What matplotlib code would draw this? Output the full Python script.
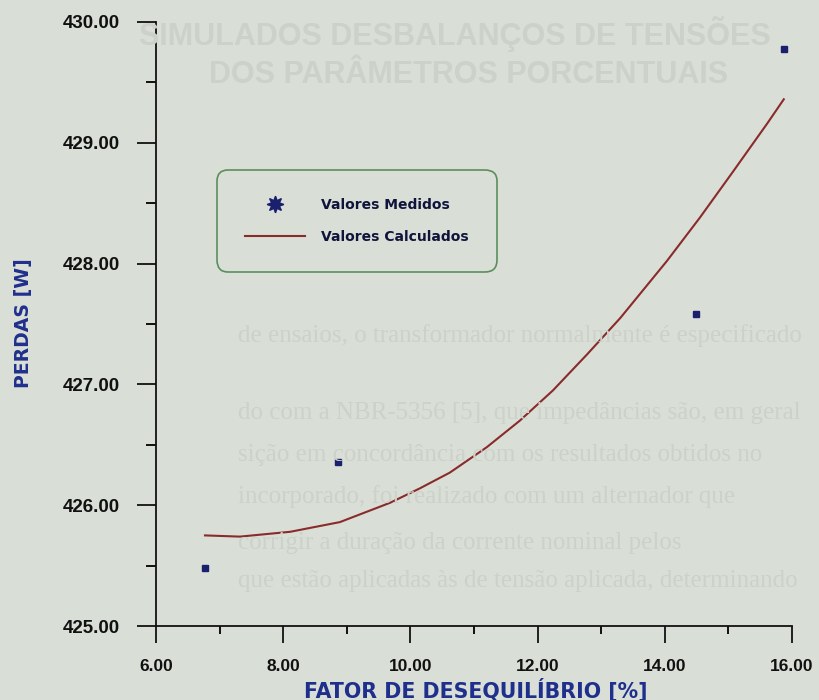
import matplotlib.pyplot as plt
from matplotlib.lines import Line2D
from matplotlib.ticker import MultipleLocator, FormatStrFormatter

# measured losses
fator_medido = [6.77, 8.86, 14.49, 15.87]
perdas_medido = [425.48, 426.36, 427.58, 429.78]

# calculated losses
fator_calc = [6.77, 7.32, 8.11, 8.89, 9.68, 10.15, 10.62, 11.20, 11.72,
              12.24, 12.78, 13.30, 14.03, 14.55, 15.07, 15.61, 15.87]
perdas_calc = [425.75, 425.74, 425.78, 425.86, 426.02, 426.14, 426.27, 426.48, 426.70,
               426.95, 427.25, 427.55, 428.02, 428.38, 428.76, 429.16, 429.36]

x_ticks = [6, 8, 10, 12, 14, 16]
y_ticks = [425, 426, 427, 428, 429, 430]

BG = '#d9dfd7'
GHOST = '#ccd2ca'
NAVY = '#1a1f6e'
LABEL_BLUE = '#1f2f8c'
LINE_RED = '#8a2b2b'

fig = plt.figure(figsize=(8.19, 7.0), dpi=100, facecolor=BG)

# faint print from the other side of the sheet
fig.text(0.17, 0.952, 'SIMULADOS DESBALANÇOS DE TENSÕES', fontsize=22, weight='bold',
         color=GHOST, family='Liberation Sans', va='center')
fig.text(0.255, 0.893, 'DOS PARÂMETROS PORCENTUAIS', fontsize=22, weight='bold',
         color=GHOST, family='Liberation Sans', va='center')
ghost_lines = [
    (0.52, 'de ensaios, o transformador normalmente é especificado'),
    (0.41, 'do com a NBR-5356 [5], que impedâncias são, em geral'),
    (0.35, 'sição em concordância com os resultados obtidos no'),
    (0.29, 'incorporado, foi realizado com um alternador que'),
    (0.225, 'corrigir a duração da corrente nominal pelos'),
    (0.17, 'que estão aplicadas às de tensão aplicada, determinando'),
]
for yy, txt in ghost_lines:
    fig.text(0.29, yy, txt, fontsize=18, color=GHOST, family='Liberation Serif', va='center')

ax = fig.add_axes([0.1905, 0.1057, 0.7766, 0.8629])
ax.set_facecolor('none')

ax.plot(fator_calc, perdas_calc, color=LINE_RED, lw=1.5, zorder=3)
ax.plot(fator_medido, perdas_medido, linestyle='none', marker='s', markersize=5,
        color=NAVY, zorder=4)

ax.set_xlim(6, 16)
ax.set_ylim(425, 430)
ax.set_xticks(x_ticks)
ax.set_yticks(y_ticks)
ax.xaxis.set_minor_locator(MultipleLocator(1))
ax.yaxis.set_minor_locator(MultipleLocator(0.5))
ax.xaxis.set_major_formatter(FormatStrFormatter('%.2f'))
ax.yaxis.set_major_formatter(FormatStrFormatter('%.2f'))

for side in ['top', 'right']:
    ax.spines[side].set_visible(False)
for side in ['left', 'bottom']:
    ax.spines[side].set_linewidth(1.3)
    ax.spines[side].set_color('#111111')

ax.tick_params(axis='y', which='major', direction='out', length=14, width=1.3, pad=12,
               labelsize=13.5, colors='#111111')
ax.tick_params(axis='y', which='minor', direction='out', length=7, width=1.3)
ax.tick_params(axis='x', which='major', direction='out', length=12, width=1.3, pad=12,
               labelsize=12.5, colors='#111111')
ax.tick_params(axis='x', which='minor', direction='out', length=6, width=1.3)
for lab in ax.get_xticklabels() + ax.get_yticklabels():
    lab.set_fontfamily('Liberation Sans')
    lab.set_fontweight('bold')

ax.set_xlabel('FATOR DE DESEQUILÍBRIO [%]', fontsize=14.8, weight='bold',
              color=LABEL_BLUE, family='DejaVu Sans')
ax.xaxis.set_label_coords(0.503, -0.086)
ax.set_ylabel('PERDAS [W]', fontsize=13.6, weight='bold', color=LABEL_BLUE,
              family='DejaVu Sans')
ax.yaxis.set_label_coords(-0.193, 0.502)

handles = [
    Line2D([], [], linestyle='none', marker=(8, 1, 0), markersize=12, color=NAVY),
    Line2D([], [], color=LINE_RED, lw=1.5),
]
leg = ax.legend(handles, ['Valores Medidos', 'Valores Calculados'],
                loc='upper left', bbox_to_anchor=(0.0959, 0.755), bbox_transform=ax.transAxes,
                borderaxespad=0, borderpad=2.0, labelspacing=1.3, handlelength=4.3,
                handletextpad=1.2, frameon=True, fancybox=True,
                prop={'family': 'DejaVu Sans', 'weight': 'bold', 'size': 10})
frame = leg.get_frame()
frame.set_facecolor('none')
frame.set_edgecolor('#3d7a3d')
frame.set_linewidth(1.2)
frame.set_boxstyle('round,pad=0,rounding_size=0.8')
for t in leg.get_texts():
    t.set_color('#10143a')

fig.savefig('out.png', dpi=100, facecolor=BG)
